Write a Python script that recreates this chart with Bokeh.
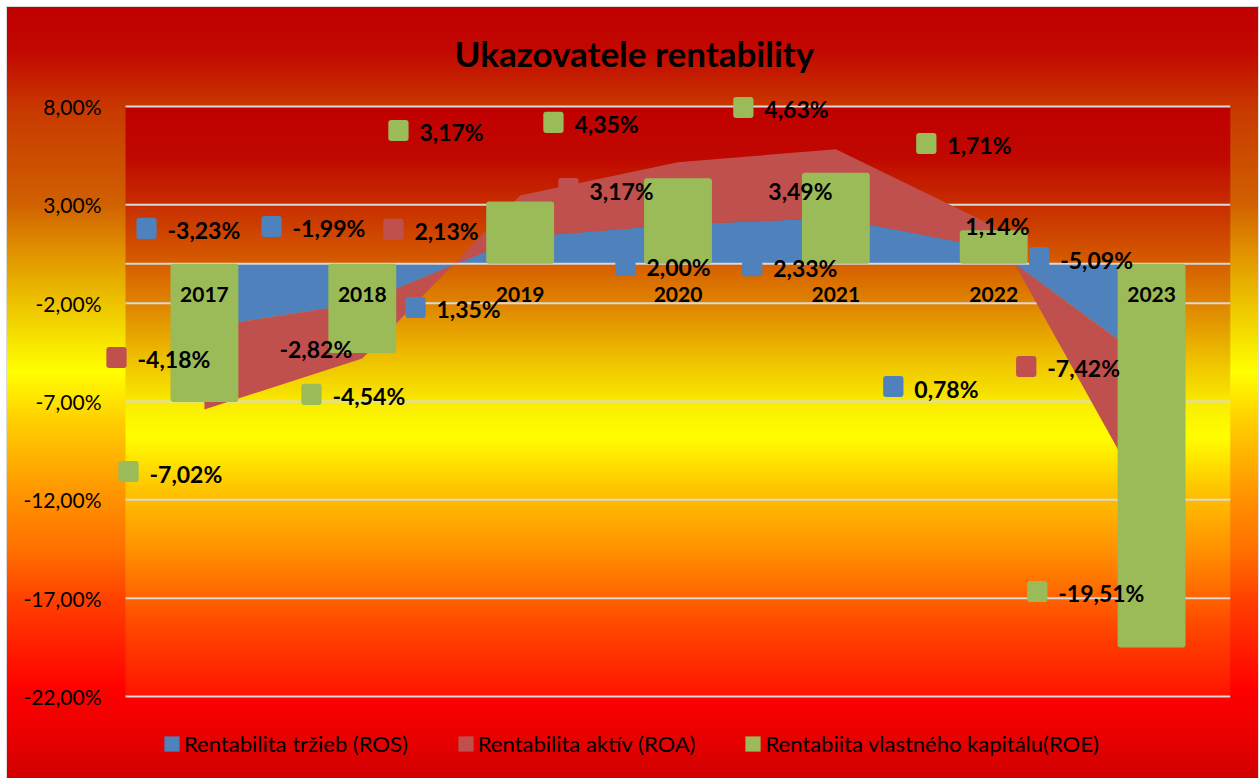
import numpy as np
from bokeh.plotting import figure
from bokeh.models import (Range1d, FixedTicker, ColumnDataSource, LabelSet, Label,
                          Legend, LegendItem)
from bokeh.core.properties import value
from bokeh.embed import file_html
from bokeh.resources import INLINE

# ---------------- data ----------------
years = ["2017", "2018", "2019", "2020", "2021", "2022", "2023"]
ros = [-3.23, -1.99, 1.35, 2.00, 2.33, 0.78, -5.09]
roa = [-4.18, -2.82, 2.13, 3.17, 3.49, 1.14, -7.42]
roe = [-7.02, -4.54, 3.17, 4.35, 4.63, 1.71, -19.51]
y_ticks = [-22, -17, -12, -7, -2, 3, 8]

series_names = ["Rentabilita tržieb (ROS)", "Rentabilita aktív (ROA)",
                "Rentabiita vlastného kapitálu(ROE)"]

# anchor positions (data units) of the data-label keys, as placed in the original
ros_lab_x = [-0.367, 0.425, 1.337, 2.667, 3.470, 4.364, 5.288]
ros_lab_y = [1.80, 1.90, -2.22, -0.08, -0.10, -6.24, 0.32]
roa_lab_x = [-0.557, 0.342, 1.197, 2.306, 3.439, 4.687, 5.206]
roa_lab_y = [-4.76, -4.25, 1.75, 3.83, 3.83, 2.05, -5.22]
roe_lab_x = [-0.481, 0.678, 1.229, 2.211, 3.414, 4.573, 5.276]
roe_lab_y = [-10.56, -6.64, 6.78, 7.19, 7.95, 6.12, -16.66]

# ---------------- styles / layout ----------------
BLUE, RED, GREEN = "#4F81BD", "#C0504D", "#9BBB59"
GRID = "#D9D9D9"
FONT = "Lato"

W, H = 1259, 778
PLOT_L, PLOT_R, PLOT_T, PLOT_B = 125, 1230, 106, 696   # plot area in px
FRAME_L, FRAME_T, FRAME_B = 104, 90, 772              # drawing frame (wider, so labels are not clipped)

inner_stops = [(0, "#C00000"), (50, "#C00800"), (100, "#C83000"), (150, "#D55800"),
               (200, "#E08800"), (250, "#EDBE00"), (300, "#FBEF00"), (330, "#FFFF00"),
               (380, "#FFC800"), (450, "#FF8C00"), (520, "#FF4800"), (590, "#FF1400")]
outer_grad = ("linear-gradient(to bottom, #C00000 0px, #C20800 45px, #C83800 100px, "
              "#D06000 196px, #E09000 243px, #ECC000 293px, #FFFF00 365px, #FFD000 413px, "
              "#FF9000 493px, #FF7000 543px, #FF4000 593px, #FF0000 683px, #E80000 733px, "
              "#D00000 771px)")
bg_css = (f"{outer_grad} 7px 7px / {W - 8}px {H - 7}px no-repeat, "
          f"linear-gradient(#D9D9D9, #D9D9D9) 6px 6px / {W - 6}px {H - 6}px no-repeat, #FFFFFF")


def fmt(v):
    return f"{v:.2f}".replace(".", ",") + "%"


x0, x1 = -0.5, 6.5
y0, y1 = -22, 8
xs_px = (PLOT_R - PLOT_L) / (x1 - x0)
ys_px = (PLOT_B - PLOT_T) / (y1 - y0)
x_lo = x0 - (PLOT_L - FRAME_L) / xs_px
y_hi = y1 + (PLOT_T - FRAME_T) / ys_px
y_lo = y0 - (FRAME_B - PLOT_B) / ys_px

p = figure(width=W, height=H, x_range=Range1d(x_lo, x1), y_range=Range1d(y_lo, y_hi),
           output_backend="svg", toolbar_location=None,
           min_border_left=FRAME_L, min_border_right=W - PLOT_R, min_border_top=FRAME_T,
           min_border_bottom=H - FRAME_B)
p.border_fill_alpha = 0
p.background_fill_alpha = 0
p.outline_line_color = None
p.styles = {"background": bg_css}

# plot-area gradient
def hex2rgb(h):
    return [int(h[i:i + 2], 16) for i in (1, 3, 5)]

N = PLOT_B - PLOT_T
pos = np.array([s[0] for s in inner_stops], dtype=float)
cols = np.array([hex2rgb(s[1]) for s in inner_stops], dtype=float)
img = np.zeros((N, 1, 4), dtype=np.uint8)
for r in range(N):
    t = (N - 1 - r) + 0.5  # px from top
    img[r, 0, :3] = [np.interp(t, pos, cols[:, k]) for k in range(3)]
    img[r, 0, 3] = 255
img32 = img.view(dtype=np.uint32).reshape((N, 1))
p.image_rgba(image=[img32], x=x0, y=y0, dw=x1 - x0, dh=y1 - y0, level="image")

# grid / axes
p.xaxis.visible = False
p.xgrid.visible = False
p.ygrid.visible = False
p.segment(x0=[x0] * len(y_ticks), x1=[x1] * len(y_ticks), y0=y_ticks, y1=y_ticks,
          line_color=GRID, line_width=2)
p.yaxis.ticker = FixedTicker(ticks=y_ticks)
p.yaxis.major_label_overrides = {t: fmt(t) for t in y_ticks}
p.yaxis.axis_line_color = None
p.yaxis.major_tick_line_color = None
p.yaxis.minor_tick_line_color = None
p.yaxis.major_label_standoff = -3
p.yaxis.major_label_text_font = FONT
p.yaxis.major_label_text_font_size = "21px"
p.yaxis.major_label_text_color = "black"

# series
xs = list(range(len(years)))
stack = [a + b for a, b in zip(ros, roa)]
src = ColumnDataSource(dict(x=xs, zero=[0] * len(xs), ros=ros, stack=stack, roe=roe, year=years))

r_ros = p.varea(x="x", y1="zero", y2="ros", source=src, fill_color=BLUE)
r_roa = p.varea(x="x", y1="ros", y2="stack", source=src, fill_color=RED)
# category axis line at zero
p.segment(x0=[x0], x1=[x1], y0=[0], y1=[0], line_color=GRID, line_width=2)
r_roe = p.vbar(x="x", top="roe", bottom=0, width=0.43, source=src, fill_color=GREEN,
               line_color=None, border_radius=3)

# category labels
p.add_layout(LabelSet(x="x", y="zero", text="year", source=src, y_offset=-31,
                      text_align="center", text_baseline="middle", text_font=value(FONT),
                      text_font_style="bold", text_font_size="21px", text_color="black"))

# data labels with legend keys
for lx, ly, vals, col in [(ros_lab_x, ros_lab_y, ros, BLUE),
                          (roa_lab_x, roa_lab_y, roa, RED),
                          (roe_lab_x, roe_lab_y, roe, GREEN)]:
    for x, y in zip(lx, ly):
        p.add_layout(Label(x=x, y=y, text=" ", text_font_size="1px", padding=10,
                           background_fill_color=col, border_radius=3,
                           text_align="center", text_baseline="middle"))
    lsrc = ColumnDataSource(dict(x=lx, y=ly, t=[fmt(v) for v in vals]))
    p.add_layout(LabelSet(x="x", y="y", text="t", source=lsrc, x_offset=21, y_offset=-2,
                          text_align="left", text_baseline="middle", text_font=value(FONT),
                          text_font_style="bold", text_font_size="23px", text_color="black"))

# title
p.title.text = "Ukazovatele rentability"
p.title.align = "left"
p.title.offset = 350
p.title.text_font = FONT
p.title.text_font_style = "bold"
p.title.text_font_size = "35px"
p.title.text_color = "black"
p.title.standoff = 34

# legend
legend = Legend(items=[LegendItem(label=series_names[0], renderers=[r_ros]),
                       LegendItem(label=series_names[1], renderers=[r_roa]),
                       LegendItem(label=series_names[2], renderers=[r_roe])],
                orientation="horizontal", location=(162 - FRAME_L, FRAME_B - 757),
                padding=0, spacing=48,
                glyph_width=19, glyph_height=19, label_standoff=3, label_height=19,
                label_text_font=FONT, label_text_font_size="22px", label_text_color="black",
                border_line_color=None, background_fill_alpha=0, margin=0)
p.add_layout(legend, "center")

open("out.html", "w").write(file_html(p, INLINE))
